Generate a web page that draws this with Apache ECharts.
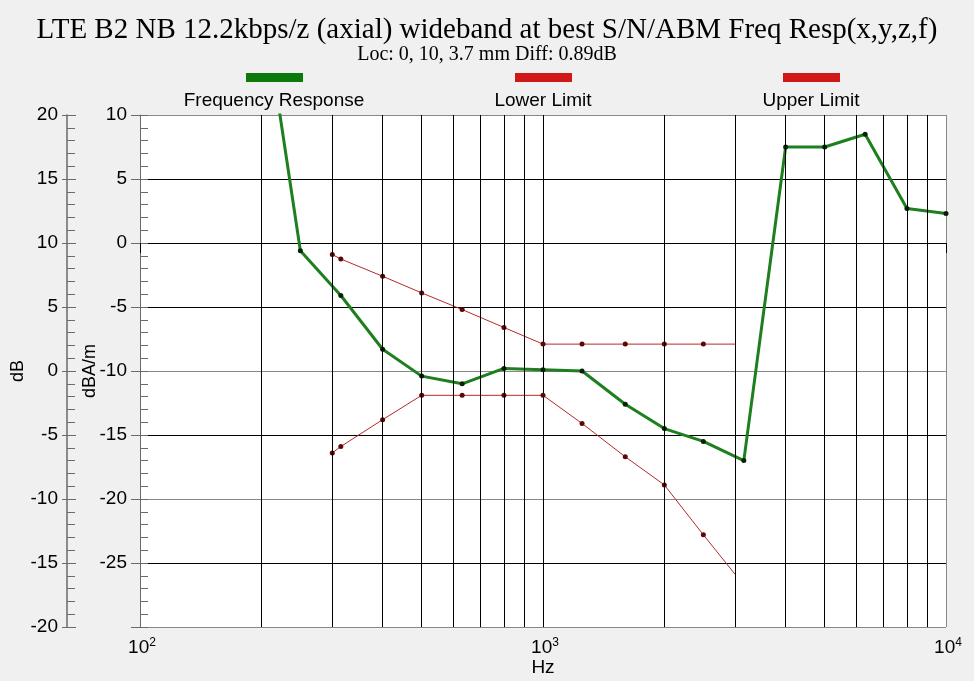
<!DOCTYPE html>
<html>
<head>
<meta charset="utf-8">
<script src="https://cdn.jsdelivr.net/npm/echarts@6/dist/echarts.min.js"></script>
<style>
  html, body { margin: 0; padding: 0; background: #f0f0f0; }
  #chart { width: 974px; height: 681px; }
</style>
</head>
<body>
<div id="chart"></div>
<script>
// ---- data ----
var titleText = 'LTE B2 NB 12.2kbps/z (axial) wideband at best S/N/ABM Freq Resp(x,y,z,f)';
var subtitleText = 'Loc: 0, 10, 3.7 mm Diff: 0.89dB';
var legendNames = ['Frequency Response', 'Lower Limit', 'Upper Limit'];

var responseFreqs = [200, 250, 315, 400, 500, 630, 800, 1000, 1250, 1600, 2000, 2500, 3150, 4000, 5000, 6300, 8000, 10000];
var responseValues = [19.7, -0.6, -4.1, -8.3, -10.4, -11.0, -9.8, -9.9, -10.0, -12.6, -14.5, -15.5, -17.0, 7.5, 7.5, 8.5, 2.7, 2.3];

var limitFreqs = [300, 315, 400, 500, 630, 800, 1000, 1250, 1600, 2000, 2500, 3000];
var lowerLimitValues = [-16.4, -15.9, -13.8, -11.9, -11.9, -11.9, -11.9, -14.1, -16.7, -18.9, -22.8, -25.9];
var upperLimitValues = [-0.9, -1.25, -2.6, -3.9, -5.2, -6.6, -7.9, -7.9, -7.9, -7.9, -7.9, -7.9];

var gridFreqs = [200, 300, 400, 500, 600, 700, 800, 900, 2000, 3000, 4000, 5000, 6000, 7000, 8000, 9000];

var rightAxis = { name: 'dBA/m', min: -30, max: 10, interval: 5 };
var leftAxis = { name: 'dB', min: -20, max: 20, interval: 5 };

// ---- build ----
function pairs(xs, ys, lastNoSymbol) {
  return xs.map(function (x, i) {
    var item = { value: [x, ys[i]] };
    if (lastNoSymbol && i === xs.length - 1) item.symbol = 'none';
    return item;
  });
}

var SANS = 'Liberation Sans';
var SERIF = 'Liberation Serif';
var AXIS_GRAY = '#6a6a6a';

var chart = echarts.init(document.getElementById('chart'), null, { renderer: 'canvas' });

var option = {
  backgroundColor: '#f0f0f0',
  animation: false,
  title: [
    {
      text: titleText, left: 'center', top: 11,
      textStyle: { fontFamily: SERIF, fontSize: 29, fontWeight: 'normal', color: '#000' }
    },
    {
      text: subtitleText, left: 'center', top: 40,
      textStyle: { fontFamily: SERIF, fontSize: 20, fontWeight: 'normal', color: '#000' }
    }
  ],
  grid: {
    left: 140, right: 28, top: 115, bottom: 54,
    containLabel: false, outerBoundsMode: 'none',
    show: true, backgroundColor: '#ffffff', borderWidth: 0
  },
  graphic: [
    { type: 'rect', shape: { x: 246, y: 73, width: 57, height: 9 }, style: { fill: '#0b7a0b' } },
    { type: 'rect', shape: { x: 515, y: 73, width: 57, height: 9 }, style: { fill: '#d01818' } },
    { type: 'rect', shape: { x: 783, y: 73, width: 57, height: 9 }, style: { fill: '#d01818' } },
    { type: 'text', x: 274, y: 101, style: { text: legendNames[0], fontFamily: SANS, fontSize: 19, fill: '#000', align: 'center', verticalAlign: 'middle' } },
    { type: 'text', x: 543, y: 101, style: { text: legendNames[1], fontFamily: SANS, fontSize: 19, fill: '#000', align: 'center', verticalAlign: 'middle' } },
    { type: 'text', x: 811, y: 101, style: { text: legendNames[2], fontFamily: SANS, fontSize: 19, fill: '#000', align: 'center', verticalAlign: 'middle' } }
  ],
  xAxis: {
    type: 'log', logBase: 10, min: 100, max: 10000,
    name: 'Hz', nameLocation: 'middle', nameGap: 31, nameMoveOverlap: false,
    nameTextStyle: { fontFamily: SANS, fontSize: 19, color: '#000' },
    axisLine: { show: true, lineStyle: { color: '#000', width: 1 } },
    axisTick: { show: true, length: 10, lineStyle: { color: '#000' } },
    axisLabel: {
      margin: 10,
      padding: [0, 0, 0, 4],
      formatter: function (v) { return '{b|10}{s|' + Math.round(Math.log10(v)) + '}'; },
      rich: {
        b: { fontFamily: SANS, fontSize: 19, color: '#000' },
        s: { fontFamily: SANS, fontSize: 12, color: '#000', padding: [0, 0, 10, 0] }
      }
    },
    splitLine: { show: true, lineStyle: { color: ['#000', '#000', '#888'], width: 1 } },
    minorTick: { show: false }
  },
  yAxis: [
    { // 0: dBA/m main (data axis)
      type: 'value', position: 'left', offset: 0,
      min: rightAxis.min, max: rightAxis.max, interval: rightAxis.interval,
      name: rightAxis.name, nameLocation: 'middle', nameGap: 41, nameRotate: 90, nameMoveOverlap: false,
      nameTextStyle: { fontFamily: SANS, fontSize: 18, color: '#000' },
      axisLine: { show: true, lineStyle: { color: AXIS_GRAY, width: 1 } },
      axisTick: { show: true, length: 9, lineStyle: { color: AXIS_GRAY } },
      axisLabel: {
        margin: 13, fontFamily: SANS, fontSize: 19, color: '#000',
        formatter: function (v) { return v === rightAxis.min ? '' : String(v); }
      },
      splitLine: { show: true, lineStyle: { color: ['#888', '#000'], width: 1 } }
    },
    { // 1: dBA/m inside minor ticks
      type: 'value', position: 'left', offset: 0,
      min: rightAxis.min, max: rightAxis.max, interval: rightAxis.interval,
      axisLine: { show: false },
      axisTick: { show: true, inside: true, length: 8, lineStyle: { color: AXIS_GRAY } },
      minorTick: { show: true, splitNumber: 5, length: 8, lineStyle: { color: AXIS_GRAY } },
      axisLabel: { show: false },
      splitLine: { show: false }
    },
    { // 2: dB left
      type: 'value', position: 'left', offset: 73,
      min: leftAxis.min, max: leftAxis.max, interval: leftAxis.interval,
      name: leftAxis.name, nameLocation: 'middle', nameGap: 40, nameRotate: 90, nameMoveOverlap: false,
      nameTextStyle: { fontFamily: SANS, fontSize: 18, color: '#000' },
      axisLine: { show: true, lineStyle: { color: AXIS_GRAY, width: 1.5 } },
      axisTick: { show: true, length: 5, lineStyle: { color: AXIS_GRAY } },
      axisLabel: { margin: 9, fontFamily: SANS, fontSize: 19, color: '#000' },
      splitLine: { show: false }
    },
    { // 3: dB inside minor ticks
      type: 'value', position: 'left', offset: 73,
      min: leftAxis.min, max: leftAxis.max, interval: leftAxis.interval,
      axisLine: { show: false },
      axisTick: { show: true, inside: true, length: 9, lineStyle: { color: AXIS_GRAY } },
      minorTick: { show: true, splitNumber: 5, length: 8, lineStyle: { color: AXIS_GRAY } },
      axisLabel: { show: false },
      splitLine: { show: false }
    }
  ],
  series: [
    {
      name: 'grid', type: 'line', data: [], z: 1, silent: true,
      markLine: {
        silent: true, symbol: ['none', 'none'], animation: false,
        label: { show: false },
        lineStyle: { color: '#000', width: 1, type: 'solid' },
        emphasis: { disabled: true },
        data: gridFreqs.map(function (f) { return { xAxis: f }; })
      }
    },
    {
      name: legendNames[2], type: 'line', yAxisIndex: 0, z: 3,
      data: pairs(limitFreqs, upperLimitValues, true),
      symbol: 'circle', symbolSize: 5,
      lineStyle: { color: '#b52a2a', width: 1 },
      itemStyle: { color: '#5a0808' }
    },
    {
      name: legendNames[1], type: 'line', yAxisIndex: 0, z: 3,
      data: pairs(limitFreqs, lowerLimitValues, true),
      symbol: 'circle', symbolSize: 5,
      lineStyle: { color: '#b52a2a', width: 1 },
      itemStyle: { color: '#5a0808' }
    },
    {
      name: legendNames[0], type: 'line', yAxisIndex: 0, z: 4,
      data: pairs(responseFreqs, responseValues, false),
      symbol: 'circle', symbolSize: 5, clip: true,
      lineStyle: { color: '#1d7f1d', width: 3 },
      itemStyle: { color: '#0a200a' }
    }
  ]
};

chart.setOption(option);
</script>
</body>
</html>
